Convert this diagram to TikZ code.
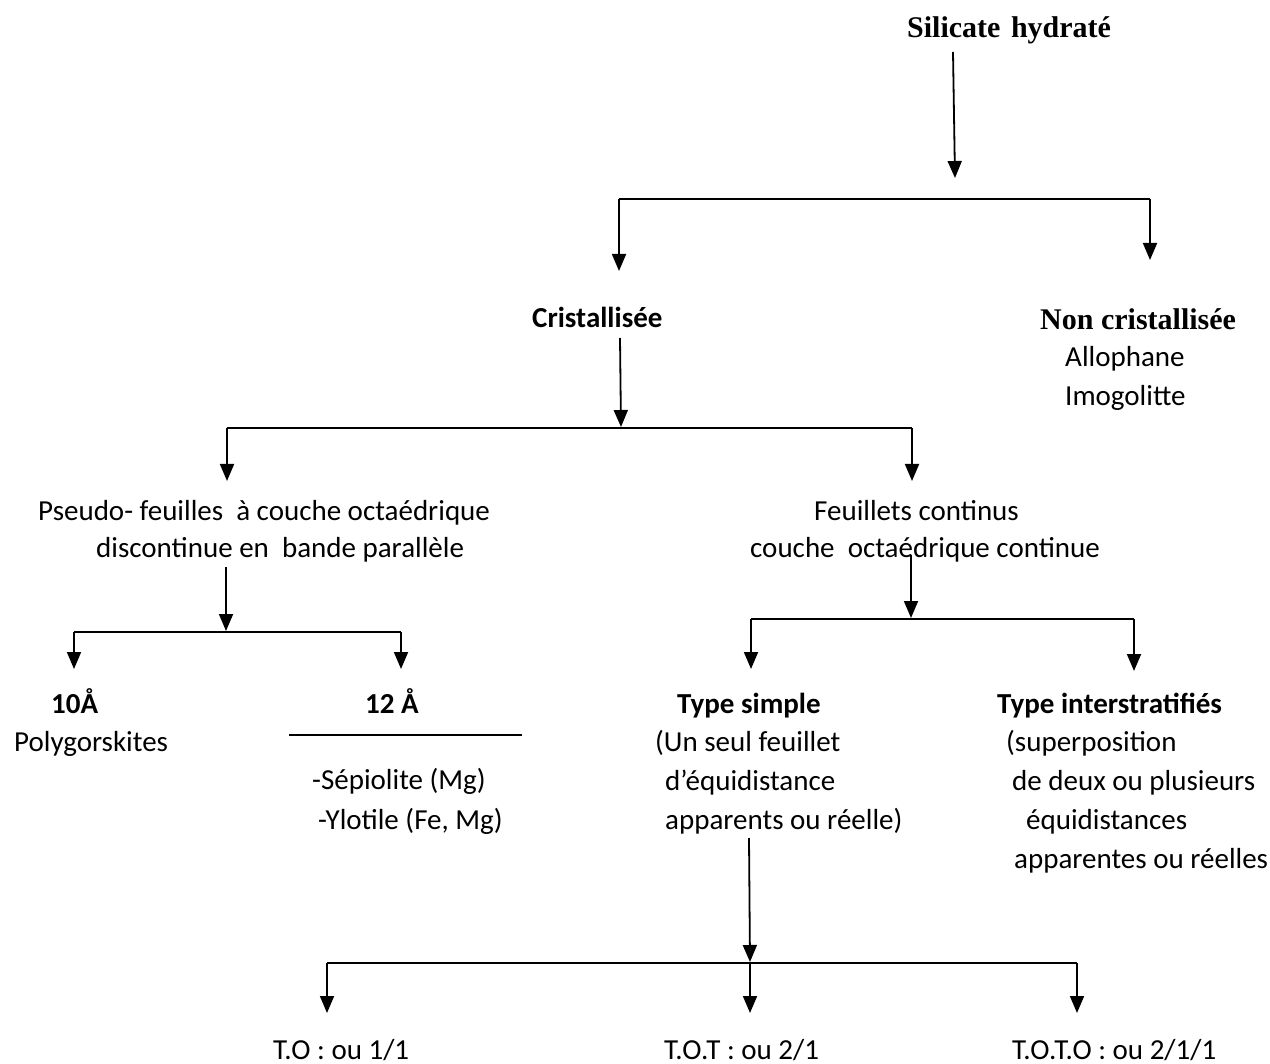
\documentclass[tikz,border=0pt]{standalone}
\usepackage{fontspec}
\setmainfont{Carlito}
\newfontfamily\tnr{Liberation Serif}
\usetikzlibrary{arrows.meta}
\begin{document}
\begin{tikzpicture}[x=1pt,y=-1pt,
  arr/.style={-{Triangle[length=17pt,width=14pt]}, line width=1.8pt},
  ln/.style={line width=1.8pt},
  txt/.style={inner sep=0pt, anchor=base west, font=\fontsize{29}{35}\selectfont},
  btxt/.style={inner sep=0pt, anchor=base west, font=\fontsize{29}{35}\selectfont\bfseries},
  serif/.style={inner sep=0pt, anchor=base west, font=\tnr\fontsize{30}{36}\selectfont\bfseries},
]
\useasboundingbox[fill=white] (0,0) rectangle (1270,1064);

% texts
\node[serif] (title) at (907,38) {Silicate\hspace{0.35em}hydraté};
\node[btxt] (cris) at (532,328) {Cristallisée};
\node[serif] (noncris) at (1040,330) {Non cristallisée};
\node[txt] (allo) at (1065,367) {Allophane};
\node[txt] (imo) at (1065,406) {Imogolitte};
\node[txt] (ps1) at (38,521) {Pseudo- feuilles \ à couche octaédrique};
\node[txt] (ps2) at (96,558) {discontinue en \ bande parallèle};
\node[txt] (fc1) at (814,521) {Feuillets continus};
\node[txt] (fc2) at (750,558) {couche \ octaédrique continue};
\node[btxt] (dix) at (51,713) {10Å};
\node[txt] (poly) at (14,751) {Polygorskites};
\node[btxt] (douze) at (365,713) {12 Å};
\node[txt] (sep) at (312,789) {-Sépiolite (Mg)};
\node[txt] (ylo) at (318,829) {-Ylotile (Fe, Mg)};
\node[btxt] (ts) at (677,713) {Type simple};
\node[txt] (ts1) at (655,751) {(Un seul feuillet};
\node[txt] (ts2) at (665,790) {d’équidistance};
\node[txt] (ts3) at (665,829) {apparents ou réelle)};
\node[btxt] (ti) at (997,713) {Type interstratifiés};
\node[txt] (ti1) at (1006,751) {(superposition};
\node[txt] (ti2) at (1012,790) {de deux ou plusieurs};
\node[txt] (ti3) at (1026,829) {équidistances};
\node[txt] (ti4) at (1014,868) {apparentes ou réelles};
\node[txt] (to) at (273,1059) {T.O : ou 1/1};
\node[txt] (tot) at (664,1059) {T.O.T : ou 2/1};
\node[txt] (toto) at (1012,1059) {T.O.T.O : ou 2/1/1};

% junction coordinates
\coordinate (a0s) at (953,52);
\coordinate (a0e) at (955,178);
\coordinate (b1L) at (619,199);
\coordinate (b1R) at (1150,199);
\coordinate (e1L) at (619,271);
\coordinate (e1R) at (1150,260);
\coordinate (a1s) at (620,338);
\coordinate (a1e) at (621,427);
\coordinate (b2L) at (227,428);
\coordinate (b2R) at (912,428);
\coordinate (e2L) at (227,481);
\coordinate (e2R) at (912,481);
\coordinate (a2s) at (226,567);
\coordinate (a2e) at (226,631);
\coordinate (b3L) at (74,632);
\coordinate (b3R) at (401,632);
\coordinate (e3L) at (74,669);
\coordinate (e3R) at (401,669);
\coordinate (a3s) at (911,555);
\coordinate (a3e) at (911,618);
\coordinate (b4L) at (751,619);
\coordinate (b4R) at (1134,619);
\coordinate (e4L) at (751,669);
\coordinate (e4R) at (1134,671);
\coordinate (a4s) at (749,838);
\coordinate (a4e) at (750,962);
\coordinate (b5L) at (327,963);
\coordinate (b5M) at (750,963);
\coordinate (b5R) at (1077,963);
\coordinate (e5L) at (327,1013);
\coordinate (e5M) at (750,1013);
\coordinate (e5R) at (1077,1013);
\coordinate (u1) at (289,735);
\coordinate (u2) at (522,735);

% connectors
\draw[arr] (a0s) -- (a0e);
\draw[ln] (b1L) -- (b1R);
\draw[arr] (b1L) -- (e1L);
\draw[arr] (b1R) -- (e1R);

\draw[arr] (a1s) -- (a1e);
\draw[ln] (b2L) -- (b2R);
\draw[arr] (b2L) -- (e2L);
\draw[arr] (b2R) -- (e2R);

\draw[arr] (a2s) -- (a2e);
\draw[ln] (b3L) -- (b3R);
\draw[arr] (b3L) -- (e3L);
\draw[arr] (b3R) -- (e3R);

\draw[arr] (a3s) -- (a3e);
\draw[ln] (b4L) -- (b4R);
\draw[arr] (b4L) -- (e4L);
\draw[arr] (b4R) -- (e4R);

\draw[arr] (a4s) -- (a4e);
\draw[ln] (b5L) -- (b5R);
\draw[arr] (b5L) -- (e5L);
\draw[arr] (b5M) -- (e5M);
\draw[arr] (b5R) -- (e5R);

\draw[ln] (u1) -- (u2);
\end{tikzpicture}
\end{document}
